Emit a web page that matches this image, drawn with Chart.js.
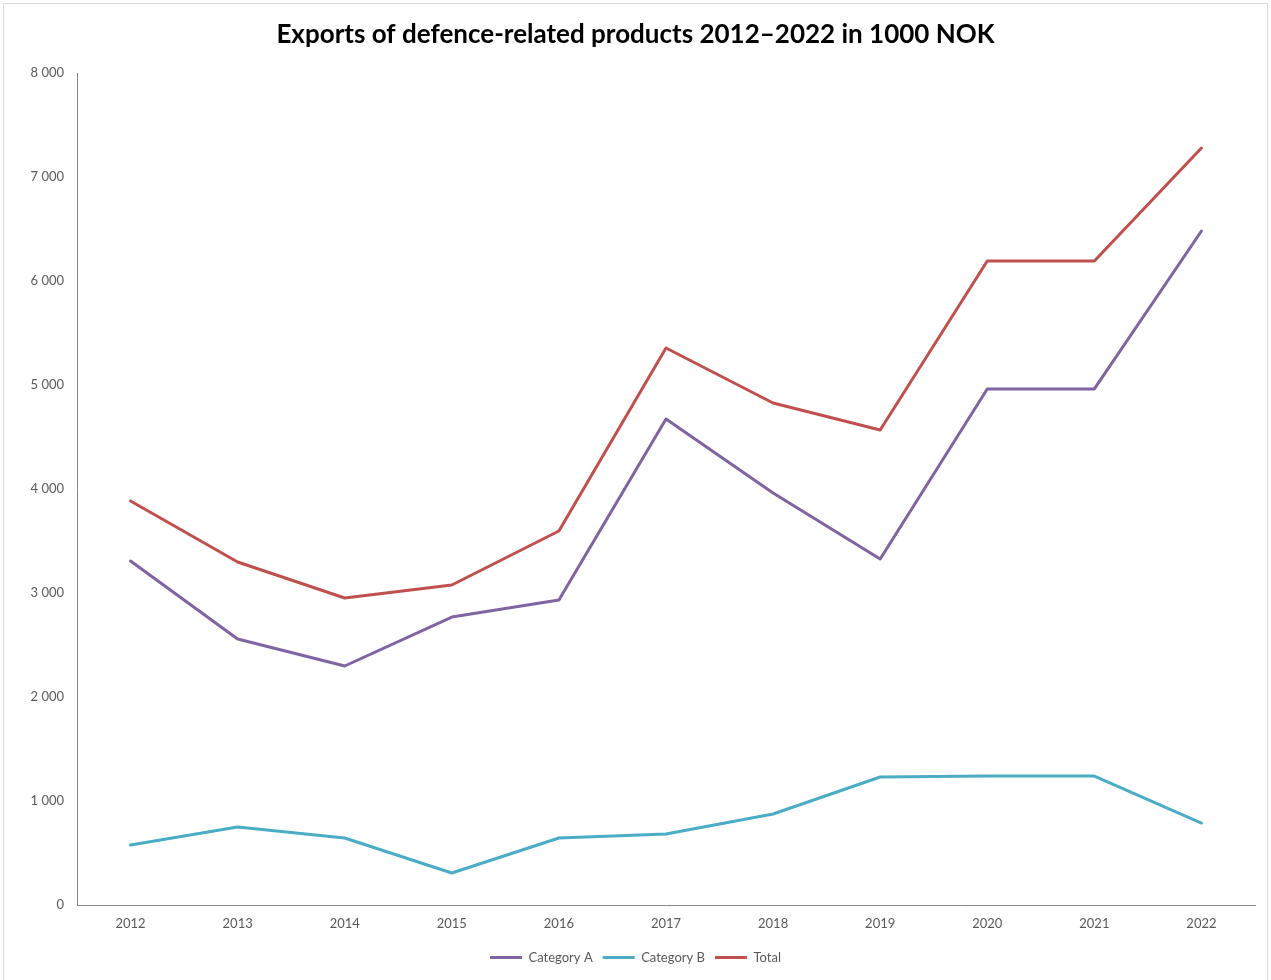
<!DOCTYPE html>
<html>
<head>
<meta charset="utf-8">
<script src="https://cdn.jsdelivr.net/npm/chart.js@4.4.1/dist/chart.umd.min.js"></script>
<style>
  html, body { margin: 0; padding: 0; background: #ffffff; }
  #wrap { position: relative; width: 1271px; height: 980px; }
</style>
</head>
<body>
<div id="wrap"><canvas id="c" width="1271" height="980"></canvas></div>
<script>
const years = ['2012','2013','2014','2015','2016','2017','2018','2019','2020','2021','2022'];
const categoryA = [3308, 2558, 2298, 2769, 2933, 4673, 3962, 3327, 4962, 4962, 6481];
const categoryB = [577, 750, 644, 308, 644, 683, 875, 1231, 1240, 1240, 788];
const total = [3885, 3298, 2952, 3077, 3596, 5356, 4827, 4567, 6192, 6192, 7279];
const seriesNames = ['Category A', 'Category B', 'Total'];
const titleText = 'Exports of defence-related products 2012\u20132022 in 1000 NOK';
const yMin = 0, yMax = 8000, yStep = 1000;

const colors = ['#8064A2', '#4BACC6', '#C0504D'];
const FONT = 'Lato, "Open Sans", sans-serif';

const framePlugin = {
  id: 'frame',
  beforeDraw(chart) {
    const ctx = chart.ctx;
    ctx.save();
    ctx.fillStyle = '#ffffff';
    ctx.fillRect(0, 0, chart.width, chart.height);
    ctx.strokeStyle = '#d9d9d9';
    ctx.lineWidth = 1;
    ctx.strokeRect(3.5, 3.5, 1264, 1000);
    ctx.restore();
  }
};

function fmt(v) {
  return String(v).replace(/\B(?=(\d{3})+(?!\d))/g, ' ');
}

new Chart(document.getElementById('c'), {
  type: 'line',
  data: {
    labels: years,
    datasets: [categoryA, categoryB, total].map((d, i) => ({
      label: seriesNames[i],
      data: d,
      borderColor: colors[i],
      backgroundColor: colors[i],
      borderWidth: 3,
      pointRadius: 0,
      pointHoverRadius: 0,
      tension: 0,
      fill: false,
      borderCapStyle: 'round',
      borderJoinStyle: 'round'
    }))
  },
  options: {
    responsive: false,
    animation: false,
    devicePixelRatio: 1,
    layout: { padding: { left: 0, right: 0, top: 0, bottom: 6 } },
    plugins: {
      tooltip: { enabled: false },
      title: {
        display: true,
        text: titleText,
        color: '#000000',
        font: { family: FONT, size: 26, weight: 'bold' },
        padding: { top: 19, bottom: 22.8 }
      },
      legend: {
        display: true,
        position: 'bottom',
        labels: {
          color: '#595959',
          font: { family: FONT, size: 13 },
          boxWidth: 32,
          boxHeight: 3,
          padding: 10,
          generateLabels(chart) {
            const items = Chart.defaults.plugins.legend.labels.generateLabels(chart);
            items.forEach(it => { it.lineWidth = 0; });
            return items;
          }
        }
      }
    },
    scales: {
      x: {
        offset: true,
        grid: { display: true, drawOnChartArea: false, drawTicks: false },
        border: { display: true, color: '#868686', width: 1 },
        ticks: { color: '#595959', font: { family: FONT, size: 13 }, padding: 11, maxRotation: 0, autoSkip: false },
        afterFit(s) { s.height = 36; }
      },
      y: {
        min: yMin,
        max: yMax,
        grid: { display: true, drawOnChartArea: false, drawTicks: false },
        border: { display: true, color: '#868686', width: 1 },
        ticks: { stepSize: yStep, color: '#595959', font: { family: FONT, size: 13 }, padding: 13, callback: v => fmt(v) },
        afterFit(s) { s.width = 77; }
      },
      yRight: {
        position: 'right',
        display: true,
        grid: { display: false },
        border: { display: false },
        ticks: { display: false },
        afterFit(s) { s.width = 16; }
      }
    }
  },
  plugins: [framePlugin]
});
</script>
</body>
</html>
